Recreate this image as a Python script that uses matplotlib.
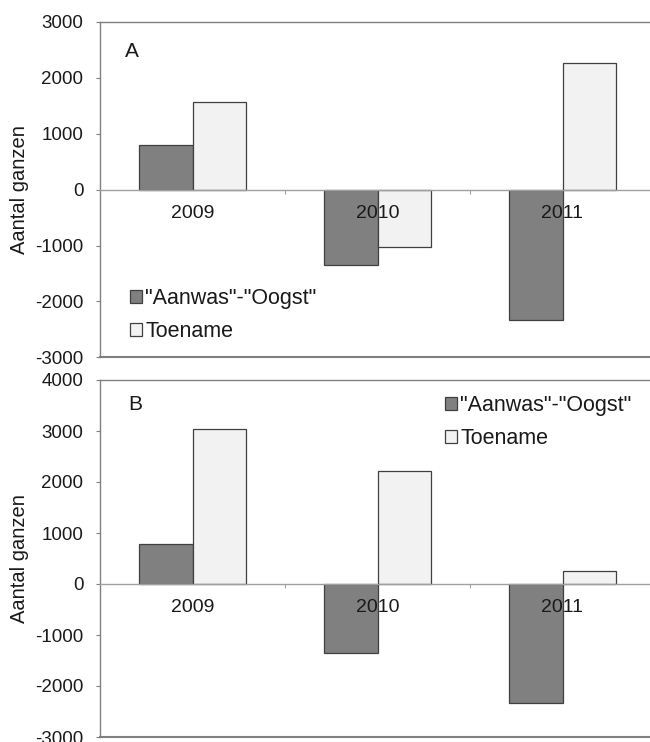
import numpy as np
import matplotlib
matplotlib.use("Agg")
import matplotlib.pyplot as plt
from matplotlib.ticker import MultipleLocator

plt.rcParams['font.family'] = ['Liberation Sans', 'DejaVu Sans']
plt.rcParams['axes.unicode_minus'] = False

years = ['2009', '2010', '2011']
series_names = ['"Aanwas"-"Oogst"', 'Toename']

# panel A
aanwas_a = [800, -1350, -2340]
toename_a = [1560, -1020, 2270]
# panel B
aanwas_b = [790, -1350, -2340]
toename_b = [3040, 2220, 260]

dark = '#808080'
light = '#f2f2f2'
edge = '#404040'
frame = '#808080'


def draw_panel(ax, d1, d2, ylim, letter, letter_pos, leg_anchor):
    x = np.arange(len(years))
    w = 0.2875
    ax.bar(x - w / 2, d1, w, color=dark, edgecolor=edge, linewidth=0.9,
           label=series_names[0], zorder=1)
    ax.bar(x + w / 2, d2, w, color=light, edgecolor=edge, linewidth=0.9,
           label=series_names[1], zorder=1)
    ax.set_xlim(-0.5, 2.5)
    ax.set_ylim(*ylim)
    ax.yaxis.set_major_locator(MultipleLocator(1000))

    # frame: left + top + bottom lines, axis line at zero
    ax.spines['right'].set_visible(False)
    for s in ('left', 'top'):
        ax.spines[s].set_color(frame)
        ax.spines[s].set_linewidth(1.0)
    ax.spines['bottom'].set_position(('data', 0))
    ax.spines['bottom'].set_color('#a0a0a0')
    ax.spines['bottom'].set_linewidth(1.0)
    ax.axhline(ylim[0], color=frame, linewidth=1.5, clip_on=False)

    ax.set_xticks([0.5, 1.5])
    ax.set_xticklabels([])
    ax.set_xticks(x, minor=True)
    ax.set_xticklabels(years, minor=True)
    ax.tick_params(axis='x', which='major', direction='out', length=3,
                   color='#a0a0a0')
    ax.tick_params(axis='x', which='minor', length=0, pad=11, labelsize=14,
                   labelcolor='#1a1a1a')
    ax.tick_params(axis='y', direction='out', length=3, color=frame,
                   pad=9, labelsize=13.5, labelcolor='#1a1a1a')

    ax.set_ylabel('Aantal ganzen', fontsize=14.5, color='#1a1a1a')
    ax.yaxis.set_label_coords(-0.128, 0.5)

    ax.text(letter_pos[0], letter_pos[1], letter, transform=ax.transAxes,
            fontsize=15, ha='left', va='center', color='#1a1a1a')
    ax.legend(loc='upper left', bbox_to_anchor=leg_anchor, frameon=False,
              fontsize=15.5, handlelength=0.55, handleheight=0.55,
              handletextpad=0.15, labelspacing=0.55, borderpad=0,
              borderaxespad=0, labelcolor='#1a1a1a')


fig = plt.figure(figsize=(6.5, 7.42), dpi=100)
ax_a = fig.add_axes([100 / 650, (742 - 357.3) / 742, 555 / 650, 335.3 / 742])
ax_b = fig.add_axes([100 / 650, (742 - 737) / 742, 555 / 650, 357 / 742])

draw_panel(ax_a, aanwas_a, toename_a, (-3000, 3000), 'A', (0.045, 0.913),
           (0.054, 0.207))
draw_panel(ax_b, aanwas_b, toename_b, (-3000, 4000), 'B', (0.05, 0.93),
           (0.622, 0.958))

fig.savefig('out.png', dpi=100)
